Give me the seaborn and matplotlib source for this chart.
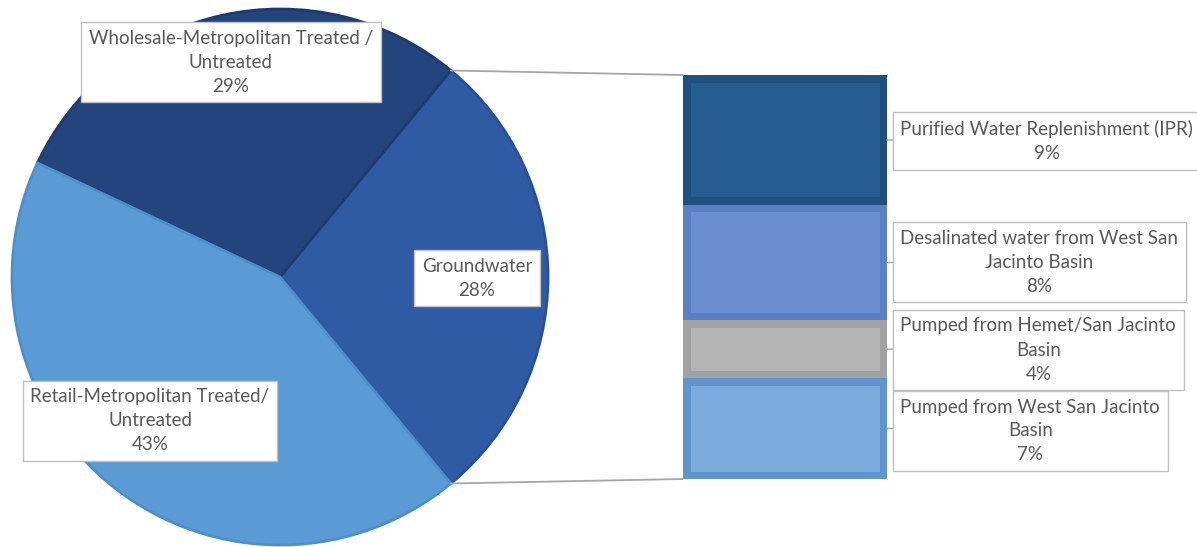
import matplotlib
matplotlib.use("Agg")
import numpy as np
import matplotlib.pyplot as plt
from matplotlib.patches import ConnectionPatch
import seaborn as sns

# ---------------- data ----------------
pie_names = ["Groundwater",
             "Wholesale-Metropolitan Treated /\nUntreated",
             "Retail-Metropolitan Treated/\nUntreated"]
pie_values = [28, 29, 43]

bar_names = ["Pumped from West San Jacinto\nBasin",
             "Pumped from Hemet/San Jacinto\nBasin",
             "Desalinated water from West San\nJacinto Basin",
             "Purified Water Replenishment (IPR)"]
bar_values = [7, 4, 8, 9]          # bottom -> top

# ---------------- style ----------------
pie_fill = ["#2F5BA5", "#23447D", "#5B9BD5"]
pie_edge = ["#28509A", "#1E3B6E", "#4E8ECB"]
bar_outer = ["#5D95CC", "#A2A2A2", "#5B7FC3", "#1F4F7D"]
bar_inner = ["#7BABDC", "#B4B4B4", "#6A8DD0", "#255E8E"]
text_color = "#595959"
box_edge = "#BFBFBF"
line_color = "#A6A6A6"

W, H = 1197, 547
sns.set_theme(style="white")
plt.rcParams['font.family'] = ['Lato', 'DejaVu Sans']
FS = 13.5
LS = 1.5

fig = plt.figure(figsize=(W / 100, H / 100), dpi=100)
fig.patch.set_facecolor("white")


def fx(px):
    return px / W


def fy(py):
    return 1 - py / H


# ---------------- pie ----------------
CX, CY, R_PX, LIM = 280, 277, 268, 1.03
half = R_PX * LIM
ax_pie = fig.add_axes([fx(CX - half), fy(CY + half), 2 * half / W, 2 * half / H])
start = -pie_values[0] / sum(pie_values) * 360 / 2
wedges, _ = ax_pie.pie(pie_values, colors=pie_fill, startangle=start,
                       counterclock=True,
                       wedgeprops=dict(linewidth=2.0))
for w, ec in zip(wedges, pie_edge):
    w.set_edgecolor(ec)
ax_pie.set_xlim(-LIM, LIM)
ax_pie.set_ylim(-LIM, LIM)
ax_pie.set_aspect("equal")
ax_pie.axis("off")

pie_label_pos = [(0.735, -0.004), (-0.183, 0.802), (-0.485, -0.537)]
for name, v, (lx, ly) in zip(pie_names, pie_values, pie_label_pos):
    ax_pie.text(lx, ly, f"{name}\n{v}%", ha="center", va="center",
                multialignment="center", color=text_color, fontsize=FS,
                linespacing=LS,
                bbox=dict(boxstyle="square,pad=0.4", fc="white",
                          ec=box_edge, lw=1.0))

# ---------------- stacked bar ----------------
BX0, BX1, BY0, BY1 = 683, 887, 75, 479
ax_bar = fig.add_axes([fx(BX0), fy(BY1), (BX1 - BX0) / W, (BY1 - BY0) / H])
total = sum(bar_values)
bw = 0.8
border_px = 7.5
bx = border_px / ((BX1 - BX0) / bw)
by = border_px / ((BY1 - BY0) / total)

bottoms = np.concatenate([[0], np.cumsum(bar_values)[:-1]])
for v, b, co, ci in zip(bar_values, bottoms, bar_outer, bar_inner):
    sns.barplot(x=[0], y=[v], bottom=b, color=co, width=bw, saturation=1,
                errorbar=None, linewidth=0, ax=ax_bar)
    sns.barplot(x=[0], y=[v - 2 * by], bottom=b + by, color=ci,
                width=bw - 2 * bx, saturation=1, errorbar=None,
                linewidth=0, ax=ax_bar)
ax_bar.set_xlim(-bw / 2, bw / 2)
ax_bar.set_ylim(0, total)
ax_bar.axis("off")

# connector lines between groundwater slice and bar
gw = wedges[0]
for ang, yb in [(gw.theta2, total), (gw.theta1, 0)]:
    t = np.deg2rad(ang)
    con = ConnectionPatch(xyA=(np.cos(t), np.sin(t)), coordsA=ax_pie.transData,
                          xyB=(-bw / 2, yb), coordsB=ax_bar.transData,
                          color=line_color, lw=1.3)
    fig.add_artist(con)

# bar labels
pad_px = 0.4 * FS * 100 / 72
bar_label_y = [431, 350, 262, 141]
for name, v, b, ly in zip(bar_names, bar_values, bottoms, bar_label_y):
    ax_bar.annotate(f"{name}\n{v}%", xy=(bw / 2, b + v / 2), xycoords="data",
                    xytext=(fx(893 + pad_px), fy(ly)), textcoords="figure fraction",
                    ha="left", va="center", multialignment="center",
                    color=text_color, fontsize=FS, linespacing=LS,
                    bbox=dict(boxstyle="square,pad=0.4", fc="white",
                              ec=box_edge, lw=1.0),
                    arrowprops=dict(arrowstyle="-", color=line_color, lw=1.0,
                                    shrinkA=0, shrinkB=0),
                    annotation_clip=False)

fig.savefig("out.png", dpi=100, facecolor="white")
